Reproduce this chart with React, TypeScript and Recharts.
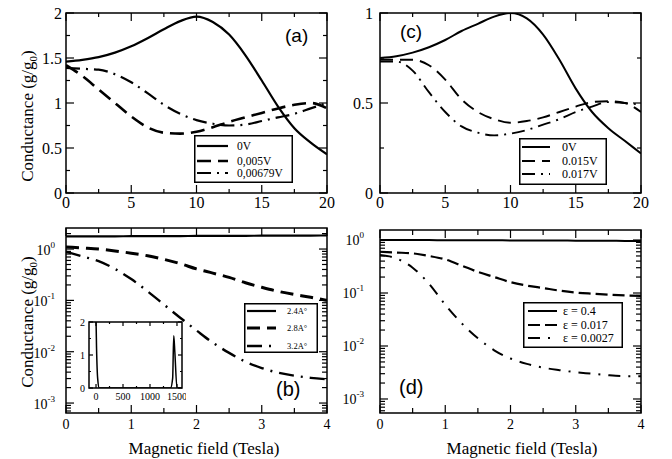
import React from "react";
import { LineChart, Line, XAxis, YAxis, ReferenceArea, Legend } from "recharts";

const SERIF = '"Liberation Serif", "Times New Roman", serif';
const SANS = '"Liberation Sans", Arial, sans-serif';

// upper panels (a), (c): field 0-20 T
const fieldWide = [0, 1.25, 2.5, 3.75, 5, 6.25, 7.5, 8.75, 10, 11.25, 12.5, 13.75, 15, 16.25, 17.5, 18.75, 20];
const gA_0V = [1.46, 1.48, 1.51, 1.56, 1.63, 1.72, 1.82, 1.91, 1.96, 1.9, 1.76, 1.53, 1.25, 0.96, 0.72, 0.56, 0.43];
const gA_005 = [1.42, 1.3, 1.15, 1.0, 0.85, 0.73, 0.67, 0.66, 0.68, 0.73, 0.79, 0.84, 0.89, 0.94, 0.98, 1.0, 0.94];
const gA_00679 = [1.39, 1.38, 1.37, 1.32, 1.23, 1.11, 0.98, 0.88, 0.81, 0.77, 0.75, 0.76, 0.8, 0.84, 0.88, 0.94, 1.0];
const gC_0V = [0.75, 0.76, 0.78, 0.81, 0.85, 0.9, 0.94, 0.98, 1.0, 0.97, 0.88, 0.74, 0.58, 0.45, 0.36, 0.29, 0.22];
const gC_015 = [0.74, 0.74, 0.74, 0.71, 0.63, 0.52, 0.45, 0.41, 0.39, 0.4, 0.42, 0.45, 0.48, 0.505, 0.51, 0.5, 0.45];
const gC_017 = [0.73, 0.73, 0.68, 0.56, 0.45, 0.37, 0.335, 0.32, 0.33, 0.35, 0.38, 0.41, 0.45, 0.48, 0.505, 0.5, 0.49];

// lower panels (b), (d): field 0-4 T, log scale
const fieldNarrow = [0, 0.25, 0.5, 0.75, 1, 1.25, 1.5, 1.75, 2, 2.25, 2.5, 2.75, 3, 3.25, 3.5, 3.75, 4];
const gB_24 = [1.76, 1.76, 1.77, 1.77, 1.78, 1.78, 1.79, 1.79, 1.8, 1.8, 1.81, 1.81, 1.82, 1.82, 1.83, 1.83, 1.84];
const gB_28 = [1.1, 1.05, 1.0, 0.92, 0.83, 0.74, 0.63, 0.52, 0.41, 0.34, 0.28, 0.22, 0.18, 0.15, 0.13, 0.115, 0.1];
const gB_32 = [0.89, 0.72, 0.58, 0.41, 0.26, 0.15, 0.083, 0.046, 0.026, 0.015, 0.0095, 0.0064, 0.0048, 0.0039, 0.0034, 0.0031, 0.0029];
const gD_04 = [1.0, 1.0, 1.0, 1.0, 0.99, 0.99, 0.99, 0.99, 0.98, 0.98, 0.98, 0.98, 0.97, 0.97, 0.97, 0.96, 0.96];
const gD_017 = [0.6, 0.58, 0.56, 0.5, 0.43, 0.33, 0.25, 0.2, 0.16, 0.138, 0.124, 0.111, 0.102, 0.097, 0.093, 0.09, 0.088];
const gD_0027 = [0.52, 0.45, 0.3, 0.15, 0.06, 0.027, 0.014, 0.0083, 0.0058, 0.0046, 0.0039, 0.0035, 0.0032, 0.003, 0.0028, 0.0027, 0.0027];

// inset of (b)
const insetX = [-40, 0, 10, 30, 60, 1380, 1420, 1440, 1460, 1500, 1600];
const insetG = [2.3, 2.0, 1.2, 0.3, 0, 0, 0.3, 1.58, 1.1, 0, 0];

// ticks
const xWideMajor = [0, 5, 10, 15, 20];
const xWideMinor = [2.5, 7.5, 12.5, 17.5];
const xNarrowMajor = [0, 1, 2, 3, 4];
const xNarrowMinor = [0.5, 1.5, 2.5, 3.5];
const yAMajor = [0, 0.5, 1, 1.5, 2];
const yAMinor = [0.25, 0.75, 1.25, 1.75];
const yCMajor = [0, 0.5, 1];
const yCMinor = [0.25, 0.75];
const yLogMajor = [0.001, 0.01, 0.1, 1];
const yLogMinorB = [0.0007, 0.0008, 0.0009, 0.002, 0.003, 0.004, 0.005, 0.006, 0.007, 0.008, 0.009,
  0.02, 0.03, 0.04, 0.05, 0.06, 0.07, 0.08, 0.09, 0.2, 0.3, 0.4, 0.5, 0.6, 0.7, 0.8, 0.9, 2];
const yLogMinorD = [0.0006, 0.0007, 0.0008, 0.0009, 0.002, 0.003, 0.004, 0.005, 0.006, 0.007, 0.008, 0.009,
  0.02, 0.03, 0.04, 0.05, 0.06, 0.07, 0.08, 0.09, 0.2, 0.3, 0.4, 0.5, 0.6, 0.7, 0.8, 0.9];
const xInsetMajor = [0, 500, 1000, 1500];
const xInsetMinor = [250, 750, 1250];
const yInsetMajor = [0, 1, 2];
const yInsetMinor = [0.5, 1.5];

// legend labels
const legendA = ["0V", "0,005V", "0,00679V"];
const legendC = ["0V", "0.015V", "0.017V"];
const legendB = ["2.4A°", "2.8A°", "3.2A°"];
const legendD = ["ε = 0.4", "ε = 0.017", "ε = 0.0027"];

type Style = { dash?: string; width: number };
type Box = { l: number; t: number; r: number; b: number };
type LegendCfg = {
  x: number; y: number; w: number; h: number;
  labels: string[]; rows: number[]; s0: number; s1: number; tx: number; fs: number;
};
type Cfg = {
  left: number; top: number; width: number; height: number;
  plot: Box;
  rows: Record<string, number>[];
  keys: string[];
  styles: Style[];
  xDomain: [number, number]; xMajor: number[]; xMinor: number[];
  yDomain: [number, number]; yMajor: number[]; yMinor: number[];
  log?: boolean;
  font: number; majorLen: number; minorLen: number;
  xLabelDy: number; yLabelGap: number; yLabelDy: number;
  frameFill?: string;
  legend?: LegendCfg;
};

function table(xs: number[], ...cols: number[][]) {
  return xs.map((x, i) => {
    const row: Record<string, number> = { x };
    cols.forEach((c, j) => (row["s" + j] = c[i]));
    return row;
  });
}

function Panel({ cfg, children }: { cfg: Cfg; children?: React.ReactNode }) {
  const { plot } = cfg;

  const xTick = (props: any) => {
    const v = props.payload.value;
    const x = props.x;
    const major = cfg.xMajor.includes(v);
    const len = major ? cfg.majorLen : cfg.minorLen;
    return (
      <g>
        <line x1={x} x2={x} y1={plot.b} y2={plot.b - len} stroke="#000" strokeWidth={1.2} />
        <line x1={x} x2={x} y1={plot.t} y2={plot.t + len} stroke="#000" strokeWidth={1.2} />
        {major && (
          <text x={x} y={plot.b + cfg.xLabelDy} textAnchor="middle" fontFamily={SERIF} fontSize={cfg.font} fill="#000">
            {v}
          </text>
        )}
      </g>
    );
  };

  const yTick = (props: any) => {
    const v = props.payload.value;
    const y = props.y;
    const major = cfg.yMajor.includes(v);
    const len = major ? cfg.majorLen : cfg.minorLen;
    return (
      <g>
        <line x1={plot.l} x2={plot.l + len} y1={y} y2={y} stroke="#000" strokeWidth={1.2} />
        <line x1={plot.r} x2={plot.r - len} y1={y} y2={y} stroke="#000" strokeWidth={1.2} />
        {major &&
          (cfg.log ? (
            <text x={plot.l - cfg.yLabelGap} y={y + cfg.yLabelDy} textAnchor="end" fontFamily={SERIF} fontSize={cfg.font} fill="#000">
              10
              <tspan dy={-7} fontSize={cfg.font * 0.65}>
                {Math.round(Math.log10(v))}
              </tspan>
            </text>
          ) : (
            <text x={plot.l - cfg.yLabelGap} y={y + cfg.yLabelDy} textAnchor="end" fontFamily={SERIF} fontSize={cfg.font} fill="#000">
              {v}
            </text>
          ))}
      </g>
    );
  };

  const lg = cfg.legend;
  const legendContent = () =>
    lg ? (
      <svg width={lg.w} height={lg.h} style={{ display: "block" }}>
        <rect x={0.75} y={0.75} width={lg.w - 1.5} height={lg.h - 1.5} fill="#fff" stroke="#000" strokeWidth={1.5} />
        {lg.labels.map((lab, i) => (
          <g key={lab}>
            <line x1={lg.s0} x2={lg.s1} y1={lg.rows[i]} y2={lg.rows[i]} stroke="#000"
              strokeWidth={cfg.styles[i].width} strokeDasharray={cfg.styles[i].dash} />
            <text x={lg.tx} y={lg.rows[i] + lg.fs * 0.35} fontFamily={SERIF} fontSize={lg.fs} fill="#000">
              {lab}
            </text>
          </g>
        ))}
      </svg>
    ) : null;

  return (
    <div style={{ position: "absolute", left: cfg.left, top: cfg.top }}>
      <LineChart
        width={cfg.width}
        height={cfg.height}
        data={cfg.rows}
        margin={{ top: plot.t, right: cfg.width - plot.r, bottom: 0, left: 0 }}
      >
        <ReferenceArea
          x1={cfg.xDomain[0]} x2={cfg.xDomain[1]} y1={cfg.yDomain[0]} y2={cfg.yDomain[1]}
          fill={cfg.frameFill ?? "none"} fillOpacity={1} stroke="#000" strokeWidth={1.5} ifOverflow="visible"
        />
        <XAxis
          dataKey="x" type="number" domain={cfg.xDomain} allowDataOverflow
          ticks={[...cfg.xMajor, ...cfg.xMinor]} interval={0} tick={xTick}
          tickLine={false} axisLine={false} tickSize={0} tickMargin={0} height={cfg.height - plot.b}
        />
        <YAxis
          type="number" scale={cfg.log ? "log" : "linear"} domain={cfg.yDomain} allowDataOverflow
          ticks={[...cfg.yMajor, ...cfg.yMinor]} interval={0} tick={yTick}
          tickLine={false} axisLine={false} tickSize={0} tickMargin={0} width={plot.l}
        />
        {cfg.keys.map((k, i) => (
          <Line
            key={k} dataKey={k} type="monotone" stroke="#000"
            strokeWidth={cfg.styles[i].width} strokeDasharray={cfg.styles[i].dash}
            dot={false} activeDot={false} isAnimationActive={false}
          />
        ))}
        {lg && (
          <Legend
            layout="vertical" align="center" verticalAlign="middle" content={legendContent}
            wrapperStyle={{ position: "absolute", left: lg.x, top: lg.y, width: lg.w, height: lg.h }}
          />
        )}
        {children}
      </LineChart>
    </div>
  );
}

const styleA: Style[] = [{ width: 2.2 }, { width: 2.6, dash: "14 7" }, { width: 2.2, dash: "14 6 2 6" }];
const styleC: Style[] = [{ width: 2 }, { width: 1.9, dash: "13 7" }, { width: 1.9, dash: "13 6 2 6" }];
const styleB: Style[] = [{ width: 2.2 }, { width: 3, dash: "13 7" }, { width: 2.4, dash: "15 7 2 7" }];
const styleD: Style[] = [{ width: 2 }, { width: 2.2, dash: "12 5" }, { width: 2, dash: "12 8 2 8" }];

const cfgA: Cfg = {
  left: 0, top: 0, width: 336, height: 215,
  plot: { l: 66, t: 13, r: 327, b: 193 },
  rows: table(fieldWide, gA_0V, gA_005, gA_00679), keys: ["s0", "s1", "s2"], styles: styleA,
  xDomain: [0, 20], xMajor: xWideMajor, xMinor: xWideMinor,
  yDomain: [0, 2], yMajor: yAMajor, yMinor: yAMinor,
  font: 16, majorLen: 8, minorLen: 4, xLabelDy: 15, yLabelGap: 4, yLabelDy: 5.5,
  legend: { x: 194, y: 135, w: 99, h: 48, labels: legendA, rows: [11, 26, 38], s0: 3, s1: 34, tx: 43, fs: 11.5 },
};

const cfgC: Cfg = {
  left: 336, top: 0, width: 336, height: 215,
  plot: { l: 44, t: 13, r: 305, b: 193 },
  rows: table(fieldWide, gC_0V, gC_015, gC_017), keys: ["s0", "s1", "s2"], styles: styleC,
  xDomain: [0, 20], xMajor: xWideMajor, xMinor: xWideMinor,
  yDomain: [0, 1], yMajor: yCMajor, yMinor: yCMinor,
  font: 16, majorLen: 8, minorLen: 4, xLabelDy: 15, yLabelGap: 7, yLabelDy: 5.5,
  legend: { x: 183, y: 138, w: 88, h: 47, labels: legendC, rows: [9, 23, 36], s0: 3, s1: 31, tx: 43, fs: 12 },
};

const cfgB: Cfg = {
  left: 0, top: 215, width: 336, height: 244,
  plot: { l: 66, t: 13, r: 327, b: 198 },
  rows: table(fieldNarrow, gB_24, gB_28, gB_32), keys: ["s0", "s1", "s2"], styles: styleB,
  xDomain: [0, 4], xMajor: xNarrowMajor, xMinor: xNarrowMinor,
  yDomain: [0.00064, 2.57], yMajor: yLogMajor, yMinor: yLogMinorB, log: true,
  font: 14, majorLen: 8, minorLen: 5, xLabelDy: 16, yLabelGap: 11, yLabelDy: 6,
  legend: { x: 244, y: 88, w: 74, h: 50, labels: legendB, rows: [8, 25, 43], s0: 3, s1: 32, tx: 43, fs: 8.5 },
};

const cfgD: Cfg = {
  left: 336, top: 215, width: 336, height: 244,
  plot: { l: 44, t: 15, r: 305, b: 198 },
  rows: table(fieldNarrow, gD_04, gD_017, gD_0027), keys: ["s0", "s1", "s2"], styles: styleD,
  xDomain: [0, 4], xMajor: xNarrowMajor, xMinor: xNarrowMinor,
  yDomain: [0.000544, 1.545], yMajor: yLogMajor, yMinor: yLogMinorD, log: true,
  font: 14, majorLen: 8, minorLen: 5, xLabelDy: 16, yLabelGap: 16, yLabelDy: 5,
  legend: { x: 187, y: 87, w: 100, h: 46, labels: legendD, rows: [9, 23, 36], s0: 5, s1: 34, tx: 40, fs: 12 },
};

const cfgInset: Cfg = {
  left: 60, top: 300, width: 126, height: 106,
  plot: { l: 29, t: 22, r: 122, b: 88 },
  rows: table(insetX, insetG), keys: ["s0"], styles: [{ width: 1.5 }],
  xDomain: [-130, 1593], xMajor: xInsetMajor, xMinor: xInsetMinor,
  yDomain: [0, 2], yMajor: yInsetMajor, yMinor: yInsetMinor,
  font: 10, majorLen: 4, minorLen: 2, xLabelDy: 12, yLabelGap: 4, yLabelDy: 3.5,
  frameFill: "#fff",
};

function YTitle({ cy }: { cy: number }) {
  return (
    <text transform="rotate(-90)" x={-cy} y={33} textAnchor="middle" fontFamily={SERIF} fontSize={17} fill="#000">
      Conductance (g/g<tspan dy={4} fontSize={11}>0</tspan>
      <tspan dy={-4}>)</tspan>
    </text>
  );
}

function XTitle({ cx }: { cx: number }) {
  return (
    <text x={cx} y={239} textAnchor="middle" fontFamily={SERIF} fontSize={17} fill="#000">
      Magnetic field (Tesla)
    </text>
  );
}

function Tag({ x, y, size, label }: { x: number; y: number; size: number; label: string }) {
  return (
    <text x={x} y={y} fontFamily={SANS} fontSize={size} fill="#000">
      {label}
    </text>
  );
}

export default function App() {
  return (
    <div style={{ position: "absolute", left: 0, top: 0, width: 672, height: 459, background: "#fff", overflow: "hidden" }}>
      <Panel cfg={cfgA}>
        <YTitle cy={116} />
        <Tag x={285} y={42} size={19} label="(a)" />
      </Panel>
      <Panel cfg={cfgC}>
        <Tag x={64} y={38} size={19} label="(c)" />
      </Panel>
      <Panel cfg={cfgB}>
        <YTitle cy={107} />
        <XTitle cx={204} />
        <Tag x={276} y={181} size={20} label="(b)" />
      </Panel>
      <Panel cfg={cfgD}>
        <XTitle cx={186} />
        <Tag x={63} y={179} size={20} label="(d)" />
      </Panel>
      <Panel cfg={cfgInset} />
    </div>
  );
}
